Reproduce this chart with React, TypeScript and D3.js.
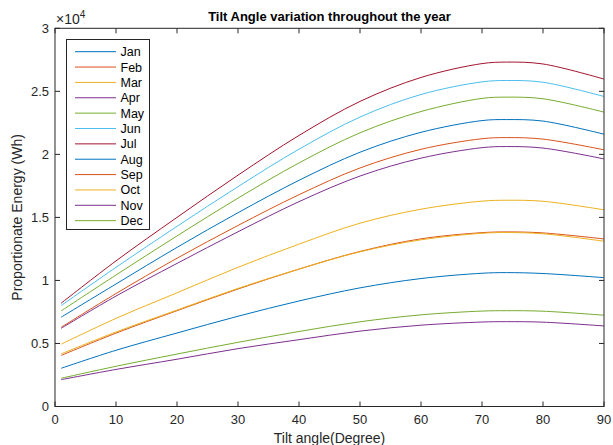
import React from "react";
import * as d3 from "d3";

const angles = [1, 10, 20, 30, 40, 50, 60, 70, 74, 80, 90];
const months = ["Jan", "Feb", "Mar", "Apr", "May", "Jun", "Jul", "Aug", "Sep", "Oct", "Nov", "Dec"];
const jan = [0.303, 0.446, 0.583, 0.716, 0.837, 0.941, 1.015, 1.057, 1.062, 1.055, 1.022];
const feb = [0.405, 0.582, 0.76, 0.932, 1.09, 1.23, 1.33, 1.379, 1.385, 1.377, 1.329];
const mar = [0.494, 0.699, 0.902, 1.104, 1.288, 1.454, 1.565, 1.629, 1.636, 1.628, 1.56];
const apr = [0.62, 0.876, 1.135, 1.386, 1.625, 1.828, 1.97, 2.053, 2.062, 2.05, 1.964];
const may = [0.758, 1.043, 1.353, 1.653, 1.932, 2.171, 2.34, 2.444, 2.454, 2.441, 2.335];
const jun = [0.8, 1.104, 1.429, 1.744, 2.041, 2.296, 2.475, 2.575, 2.586, 2.572, 2.459];
const jul = [0.819, 1.155, 1.5, 1.835, 2.15, 2.42, 2.61, 2.72, 2.732, 2.717, 2.597];
const aug = [0.708, 0.972, 1.262, 1.537, 1.794, 2.017, 2.175, 2.268, 2.276, 2.264, 2.16];
const sep = [0.628, 0.896, 1.176, 1.436, 1.68, 1.892, 2.04, 2.124, 2.133, 2.121, 2.036];
const oct = [0.417, 0.591, 0.765, 0.937, 1.09, 1.227, 1.322, 1.374, 1.38, 1.37, 1.311];
const nov = [0.213, 0.294, 0.375, 0.459, 0.53, 0.598, 0.645, 0.67, 0.673, 0.669, 0.639];
const dec = [0.224, 0.319, 0.416, 0.509, 0.595, 0.672, 0.727, 0.757, 0.76, 0.756, 0.724];
const series = [jan, feb, mar, apr, may, jun, jul, aug, sep, oct, nov, dec];
const colors = ["#0072BD", "#D95319", "#EDB120", "#7E2F8E", "#77AC30", "#4DBEEE", "#A2142F",
  "#0072BD", "#D95319", "#EDB120", "#7E2F8E", "#77AC30"];
const xTicks = [0, 10, 20, 30, 40, 50, 60, 70, 80, 90];
const yTicks = [0, 0.5, 1, 1.5, 2, 2.5, 3];

export default function App() {
  const left = 55, right = 604, top = 28.3, bottom = 406.5;
  const x = d3.scaleLinear().domain([0, 90]).range([left, right]);
  const y = d3.scaleLinear().domain([0, 3]).range([bottom, top]);
  const line = d3.line<number>()
    .x((_, i) => x(angles[i]))
    .y((d) => y(d))
    .curve(d3.curveCatmullRom.alpha(0.5));
  const font = "Helvetica, Arial, 'Liberation Sans', sans-serif";
  const axisColor = "#262626";
  const tl = 5;
  const lg = { x: 66.5, y: 39.5, w: 83, h: 190 };
  return (
    <svg width={613} height={445} style={{ position: "absolute", left: 0, top: 0, background: "#fff" }}
      fontFamily={font}>
      <rect x={0} y={0} width={613} height={445} fill="#fff" />
      <g>
        {series.map((s, i) => (
          <path key={i} d={line(s) || ""} fill="none" stroke={colors[i]} strokeWidth={1} />
        ))}
      </g>
      <rect x={left} y={top} width={right - left} height={bottom - top} fill="none" stroke={axisColor} strokeWidth={1} />
      {xTicks.map((t) => (
        <g key={"x" + t}>
          <line x1={x(t)} x2={x(t)} y1={bottom} y2={bottom - tl} stroke={axisColor} />
          <line x1={x(t)} x2={x(t)} y1={top} y2={top + tl} stroke={axisColor} />
          <text x={x(t)} y={424} textAnchor="middle" fontSize={13} fill={axisColor}>{t}</text>
        </g>
      ))}
      {yTicks.map((t) => (
        <g key={"y" + t}>
          <line x1={left} x2={left + tl} y1={y(t)} y2={y(t)} stroke={axisColor} />
          <line x1={right} x2={right - tl} y1={y(t)} y2={y(t)} stroke={axisColor} />
          <text x={49} y={y(t) + 4.5} textAnchor="end" fontSize={13} fill={axisColor}>{t}</text>
        </g>
      ))}
      <text x={56} y={24} fontSize={14} fill={axisColor}>×10<tspan fontSize={10} dy={-6}>4</tspan></text>
      <text x={(left + right) / 2} y={21} textAnchor="middle" fontSize={13} fontWeight="bold" fill="#000">
        Tilt Angle variation throughout the year
      </text>
      <text x={(left + right) / 2} y={443} textAnchor="middle" fontSize={14} fill={axisColor}>Tilt angle(Degree)</text>
      <text transform={`translate(22, ${(top + bottom) / 2}) rotate(-90)`} textAnchor="middle" fontSize={14} fill={axisColor}>
        Proportionate Energy (Wh)
      </text>
      <rect x={lg.x} y={lg.y} width={lg.w} height={lg.h} fill="#fff" stroke={axisColor} strokeWidth={1} />
      {months.map((m, i) => {
        const yy = 51.7 + i * 15.36;
        return (
          <g key={m}>
            <line x1={75} x2={116} y1={yy} y2={yy} stroke={colors[i]} strokeWidth={1} />
            <text x={120.5} y={yy + 4.5} fontSize={12.5} fill="#000">{m}</text>
          </g>
        );
      })}
    </svg>
  );
}
